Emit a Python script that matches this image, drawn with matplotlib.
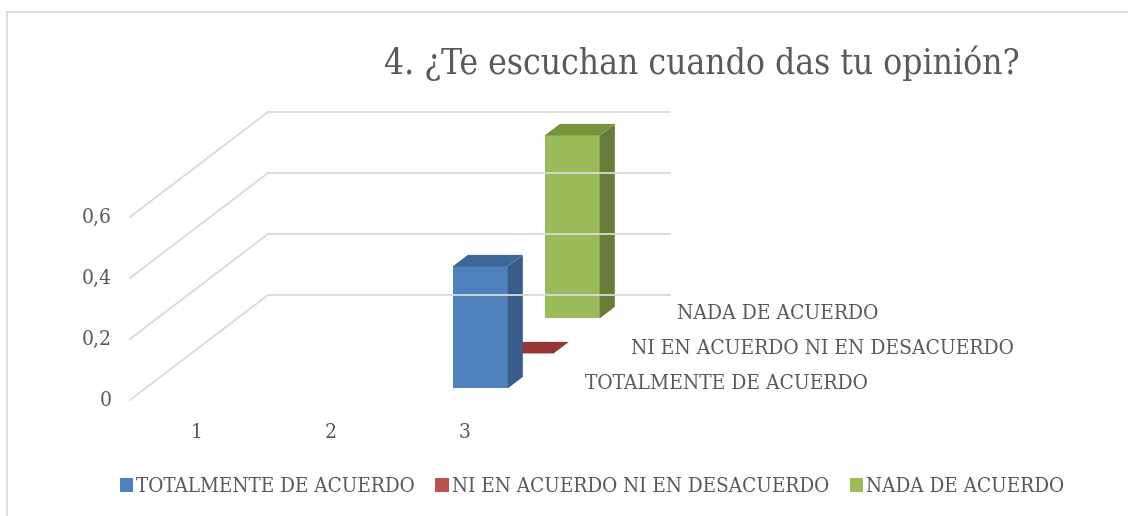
import matplotlib.pyplot as plt
from matplotlib.patches import Polygon, Patch
from matplotlib.lines import Line2D

# data
categories = ["1", "2", "3"]
series_names = ["TOTALMENTE DE ACUERDO", "NI EN ACUERDO NI EN DESACUERDO", "NADA DE ACUERDO"]
totalmente = [None, None, 0.4]
ni_ni = [None, None, 0.0]
nada = [None, None, 0.6]
yticks = [0, 0.2, 0.4, 0.6]
ytick_labels = ["0", "0,2", "0,4", "0,6"]
title = "4. ¿Te escuchan cuando das tu opinión?"

front_colors = ["#4F81BD", "#C0504D", "#9BBB59"]
side_colors = ["#385D8A", "#8C3836", "#677D39"]
top_colors = ["#3E6799", "#953735", "#77933C"]
grid_color = "#D9D9D9"
text_color = "#595959"

plt.rcParams['font.family'] = ['DejaVu Serif', 'Liberation Serif']
plt.rcParams['font.stretch'] = 'condensed'

W, H = 1128, 516
fig = plt.figure(figsize=(W / 100, H / 100), dpi=100)

# front plane: origin at pixel (130, 400), 134 px per category, 305 px per unit
px_cat, px_val = 134.0, 305.0
left_px, bottom_px, right_px, top_px = 130, 400, 700, 100
ax = fig.add_axes([left_px / W, (H - bottom_px) / H,
                   (right_px - left_px) / W, (bottom_px - top_px) / H])
ax.set_xlim(0, (right_px - left_px) / px_cat)
ax.set_ylim(0, (bottom_px - top_px) / px_val)
ax.axis('off')

# oblique depth step for one series row, in data units
dx, dy = 46 / px_cat, 35 / px_val
n_rows = len(series_names)
n_cat = len(categories)

# walls: gridlines on the side wall and back wall
for v in yticks:
    ax.plot([0, n_rows * dx], [v, v + n_rows * dy], color=grid_color, lw=1.3, clip_on=False)
    ax.plot([n_rows * dx, n_cat + n_rows * dx], [v + n_rows * dy, v + n_rows * dy],
            color=grid_color, lw=1.3, clip_on=False)

# bars, back row first
bar_w = 0.41
d0, d1 = 0.33, 0.66
all_values = [totalmente, ni_ni, nada]
for r in reversed(range(n_rows)):
    sx, sy = (r + d0) * dx, (r + d0) * dy
    ex, ey = (r + d1) * dx, (r + d1) * dy
    for i, v in enumerate(all_values[r]):
        if v is None:
            continue
        x0 = i + 0.5 - bar_w / 2
        x1 = i + 0.5 + bar_w / 2
        front = [(x0 + sx, sy), (x1 + sx, sy), (x1 + sx, v + sy), (x0 + sx, v + sy)]
        side = [(x1 + sx, sy), (x1 + ex, ey), (x1 + ex, v + ey), (x1 + sx, v + sy)]
        top = [(x0 + sx, v + sy), (x1 + sx, v + sy), (x1 + ex, v + ey), (x0 + ex, v + ey)]
        if v > 0:
            ax.add_patch(Polygon(front, closed=True, fc=front_colors[r], ec='none', clip_on=False))
            ax.add_patch(Polygon(side, closed=True, fc=side_colors[r], ec='none', clip_on=False))
        ax.add_patch(Polygon(top, closed=True, fc=top_colors[r], ec='none', clip_on=False))

# value axis labels on the front plane
for v, lab in zip(yticks, ytick_labels):
    ax.text(-18 / px_cat, v, lab, ha='right', va='center', fontsize=15,
            color=text_color, clip_on=False)

# category labels
for i, c in enumerate(categories):
    ax.text(i + 0.5, -32 / px_val, c, ha='center', va='center', fontsize=15,
            color=text_color, clip_on=False)

# series labels along the depth axis
for r, name in enumerate(series_names):
    ax.text(n_cat + (r + 0.5) * dx + 30 / px_cat, (r + 0.5) * dy - 1 / px_val, name,
            ha='left', va='center', fontsize=15, color=text_color, clip_on=False)

fig.text(702 / W, 1 - 63 / H, title, ha='center', va='center', fontsize=25.3, color=text_color)

handles = [Patch(facecolor=c, edgecolor='none') for c in front_colors]
fig.legend(handles, series_names, loc='center', bbox_to_anchor=(592 / W, 29 / H),
           ncol=3, frameon=False, fontsize=14.8, handlelength=0.65, handleheight=0.65,
           handletextpad=0.15, columnspacing=1.0, labelcolor=text_color)

# chart area border (left and top edges)
fig.add_artist(Line2D([6.5 / W, 6.5 / W], [0, 1 - 12 / H], color=grid_color, lw=1.2))
fig.add_artist(Line2D([6.5 / W, 1], [1 - 12 / H, 1 - 12 / H], color=grid_color, lw=1.2))

fig.savefig("out.png", dpi=100)
